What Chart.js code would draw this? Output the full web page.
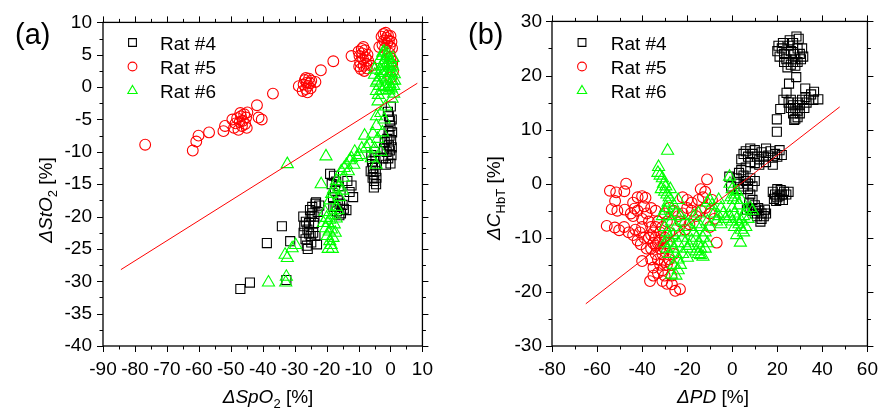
<!DOCTYPE html>
<html><head><meta charset="utf-8">
<script src="https://cdn.jsdelivr.net/npm/chart.js@4"></script>
<style>
html,body{margin:0;padding:0;background:#fff;}
#wrap{display:flex;width:890px;height:412px;}
canvas{display:block;}
</style></head><body>
<div id="wrap"><canvas id="ca" width="445" height="412"></canvas><canvas id="cb" width="445" height="412"></canvas></div>
<script>
// ---------- DATA ----------
const seriesNames = ['Rat #4', 'Rat #5', 'Rat #6'];
const xTicksA = [-90,-80,-70,-60,-50,-40,-30,-20,-10,0,10];
const yTicksA = [-40,-35,-30,-25,-20,-15,-10,-5,0,5,10];
const xTicksB = [-80,-60,-40,-20,0,20,40,60];
const yTicksB = [-30,-20,-10,0,10,20,30];

// Panel (a): dSpO2 vs dStO2
const rat4a = [[-47,-31.2],[-44,-30.2],[-38.7,-24.1],[-34,-21.5],[-31.4,-23.8],[-32.6,-29.8],
[-27.3,-20],[-27,-21.5],[-27.2,-22.5],[-26.6,-23.5],[-26.2,-24.5],[-25.9,-25],[-26,-22],[-25.5,-21],[-25,-20],[-24.5,-19.5],[-24,-21],[-24.2,-22.5],[-23.5,-23],[-23,-24.3],[-25,-23],[-24.5,-18.5],[-23.5,-18],[-26.5,-20.8],[-25.5,-22.6],[-24.8,-24],[-23.8,-20],[-25.2,-19],[-22.8,-19.3],
[-23.3,-17.8],[-22.3,-18.3],
[-18.9,-13.4],[-18.4,-15],[-17.7,-13.7],[-17.4,-16],[-17,-14.6],[-16.5,-17.5],[-16.2,-15.3],[-15.8,-18],[-18,-17],[-17.2,-18.5],
[-17.9,-18.5],[-16.8,-19.2],[-15.5,-19.5],[-14.6,-18.8],[-13.8,-19],[-15,-18.2],[-16,-19.8],
[-12.2,-15.2],[-11.7,-17],[-12.8,-16.2],[-13.5,-14.5],
[-6,-10.5],[-5.8,-11.5],[-5.5,-12.5],[-5.3,-13.5],[-5.1,-14.5],[-5.2,-15.5],[-4.8,-12],[-4.6,-13],[-4.4,-14],[-4.7,-11],[-5.6,-14],[-5,-10],[-4.5,-15],[-6.2,-13],
[-1.4,-12],
[-0.8,-3.8],[-0.5,-4.5],[-0.2,-5.2],[0,-6],[-0.6,-6.8],[-0.3,-7.5],[0.2,-8.2],[-0.5,-9],[-0.2,-9.8],[0.3,-10.5],[-0.7,-11],[0,-11.8],[0.4,-5],[0.5,-7],[-1,-8],[-1.2,-10],[0.1,-3],[-2,-9.5],[-2.3,-11],[-1.8,-8.5],[0.4,-9.3]];

const rat5a = [[-76.8,-8.9],[-61.9,-9.8],[-60.8,-8.4],[-60.1,-7.5],[-56.8,-7.0],
[-51.8,-6.0],[-52.3,-6.8],[-49.5,-5.0],[-49,-6.3],[-48.5,-5.6],[-48,-4.8],[-47.6,-6.6],[-47.2,-5.4],[-46.8,-4.5],[-46.5,-6.0],[-46.2,-5.2],[-45.8,-4.2],[-45.5,-5.7],[-45.2,-4.7],[-44.8,-3.9],[-45,-6.3],[-47,-4.0],
[-41.8,-2.8],[-41.3,-4.7],[-40.3,-5.0],[-36.8,-1.0],
[-28.7,0.15],[-27.5,-0.6],[-27.2,0.4],[-26.8,1.1],[-26.5,-0.3],[-26.2,0.7],[-26,-0.8],[-25.8,0.2],[-25.5,1.3],[-25.2,0.6],[-25,-0.2],[-24.8,1.0],[-26.5,1.4],[-23.5,0.8],
[-21.8,2.6],[-17.9,4.0],[-12.2,4.8],
[-10,5.5],[-9.7,4.8],[-9.5,3.8],[-9.3,2.8],[-9,5.9],[-8.8,5.2],[-8.6,4.3],[-8.4,3.3],[-8.2,2.5],[-8,5.7],[-7.8,4.6],[-7.6,3.6],[-7.4,2.9],[-7.2,5.0],[-7,4.1],[-9.8,3.2],[-8.5,6.2],[-6,3.3],
[-2.8,7.8],[-2.5,6.5],[-2.2,8.2],[-2,7.2],[-1.7,6.0],[-1.5,8.4],[-1.2,7.6],[-1,6.8],[-0.8,8.0],[-0.5,7.2],[-0.2,6.3],[0,7.9],[0.3,7.0],[0.5,6.0],[-3.5,6.2],
[0,4.5],[0.5,3.5],[0.8,2.5],[0.2,1.5],[-0.3,5.2],[0.6,4.0]];

const rat6a = [[-38.2,-30.2],[-32.8,-30.2],[-32.6,-29.3],[-33,-25.9],[-32.3,-26.4],[-29.7,-24.4],[-30.8,-24.9],
[-20.5,-19.3],[-20,-20.2],[-19.6,-21],[-20.3,-21.8],[-19.2,-22.3],[-19.8,-23],[-19,-23.8],[-18.6,-24.4],[-18.2,-25],[-19.5,-25],[-18,-23.3],[-17.6,-21.2],[-18.3,-19.8],[-17,-20.3],[-16.5,-19],[-19,-20.5],[-18.5,-22],[-17.3,-22.5],[-21,-21],
[-21.7,-15],[-20.2,-10.7],[-32.3,-11.9],
[-19,-17.5],[-18.4,-16.5],[-17.8,-15.8],[-16.9,-14.5],[-16.2,-15.5],[-15.4,-13],[-14.8,-14],[-14.5,-12.5],[-13.8,-12],[-13.2,-13],[-12.8,-11.3],[-12.2,-11],[-11.5,-12],[-11.2,-10],[-10.5,-10.8],[-9.7,-10.5],[-9,-9.5],[-8.1,-7.5],[-7.5,-9.3],[-6.5,-8.8],[-5.5,-7.2],[-4.4,-6],[-4.4,-4.5],[-3.9,-2.2],[-4.4,-0.6],[-4.4,0.7],[-5,1.9],[-5,2.7],[-3.4,4.2],[-2.4,5.3],
[-16,-17],[-17,-18.5],[-15,-16],
[-5,-9.5],[-4,-8],[-3,-10],[-2.5,-7],[-2,-5],[-3,-4],[-1.5,-3],[-6,-11],[-4.5,-12],
[-2.5,4.8],[-2,5.5],[-1.8,4.2],[-1.5,3.3],[-1.2,4.8],[-1,2.5],[-0.8,3.8],[-0.5,1.8],[-0.3,3.0],[0,4.2],[0.2,2.2],[0.5,1.0],[0.7,3.2],[1,0.2],[1.2,2.0],[1,-1],[0.5,-1.8],[-0.2,0.5],[-0.5,-0.5],[-1.5,1.2],[-2,2.2],[-2.8,3.2],[-3.2,1.5],[-3.5,0.2],[-3.8,-1.2],[-2.5,-0.5],[-1.8,0],[0.8,4.5],[-3,2.5],[-4,1],[0.2,-0.2],[1.3,1],[-1,5.2],[-2.2,3.6],[-0.7,0],[0.4,3.6]];

const fitA = [[-84.4,-28.2],[8.4,0.6]];

// Panel (b): dPD vs dC_HbT
const rat4b = [[28.5,27.2],[29.5,26.8],[27,26],[25,25.5],[22,25],[20,24.5],[21,23.5],[23,24],[24,23],[26,24.5],[27.5,24],[28,23],[29,22.5],[30,24],[31,25],[30.5,23],[26,22],[24.5,21.5],[23,22.5],[20.5,25.5],[22.5,26],[25.5,26.5],[29,25],[27,22.5],[28,21.8],[31.5,23.5],
[28.4,19.7],[25.2,18.5],[32.4,17.6],[36.3,17.0],[38.2,15.6],[24.1,16.8],[22.7,15.5],[21.3,13.8],[19.8,11.9],[19.8,9.6],
[25,15],[26,14],[27,14.5],[28,14],[29,15],[30,14.5],[31,15.5],[32,14],[33,15],[34,15.5],[27,13],[28,12],[29,13.5],[27.5,11.8],[29,12.3],[26,15.5],[30,13],[32.5,16],[35,16.5],[36,15.5],
[4,4.5],[5,5.5],[6,6],[7,5],[8,4],[9,5.5],[10,6.2],[11,5],[12,4.5],[13,5.8],[14,5],[15,4],[16,5.2],[17,6],[18,4.8],[19,5.5],[20,5],[21,6.2],[22,5.3],[8,6.5],[12,3.5],[15,6.5],[6,3],[10,3.8],[18,3.5],
[2,1],[2.5,0],[3,2],[4,2.5],[5,-0.5],[6,0.5],[7,0],[8,1],[9,-0.5],[10,0.5],[5,1.5],[7,-1],[3,-1],[8,-2],
[18,-1.5],[19,-2],[20,-2.5],[21,-3],[22,-2],[23,-1.5],[20,-1],[21,-2.2],[19.5,-3.2],[22.5,-3],[24,-2],[18.5,-2.8],[21.5,-1.2],[25,-1.5],
[8,-4.5],[9,-5],[10,-5.5],[11,-6],[12,-5],[13,-6.5],[14,-6],[12.5,-7],[10,-4],[11.5,-4.5],[13,-5.5],[14.5,-4.8],[15,-5.5],[6.5,-4.8],[7.5,-3.5],[9,-3],
[-1.3,1.3],[-0.5,-0.5]];

const rat5b = [[-47.1,0],[-54.3,-1.3],[-51.5,-1.6],[-47.9,-1.4],[-42,-2.5],[-40,-2.3],[-38.5,-2.6],[-11.2,0.8],
[-52,-3.2],[-44,-3.5],[-53.5,-4.7],[-47.7,-4.8],[-43.4,-4.6],[-39.1,-4.2],[-51,-5],[-45,-5.5],
[-55.7,-7.8],[-52.1,-8.1],[-50.2,-8.6],[-48,-8],[-46,-9],[-44,-9.5],[-43,-8.5],[-41,-9],[-40,-8],[-39,-10],[-42,-10.5],
[-40.6,-11.2],[-40,-14.3],[-36.5,-18.0],[-25.3,-19.8],[-23.2,-19.5],[-26.8,-18.6],
[-37,-7],[-36,-8],[-35,-9],[-34,-10],[-33,-11],[-32,-12],[-31,-13],[-30,-12],[-29,-11],[-35,-11],[-36,-12],[-34,-13],[-33,-14],[-32,-15],[-31,-16],[-30,-17],[-29,-15],[-28,-14],[-34,-8],[-32,-9],[-30,-10],[-28,-9],[-36,-14],[-35,-15.5],[-33,-16.5],[-31,-18],[-29,-18.5],[-27,-17],[-27,-15],[-26,-13],[-33,-7],[-37,-10],[-38,-12],[-35,-17],[-32,-10.5],[-31,-8],[-29,-7],[-30,-14.5],[-34,-11.5],[-36,-9.5],
[-44,-6],[-42,-5],[-40,-6.5],[-38,-5.5],[-36,-4.5],[-34,-5],[-30,-5.5],[-28,-4.5],[-26,-5],[-24,-6],[-22,-5.5],[-20,-4.5],[-18,-5],[-16,-6],[-14,-5],[-12,-4.5],[-10,-5.5],[-8,-6.5],[-6.9,-10.9],[-10,-8],[-15,-3],[-18,-3.5],[-13,-2.5],[-20,-3],[-22,-2.5],[-9,-3],[-12,-1.5],[-14,-1],[-23,-7],[-21,-8.5],[-19,-7.5]];

const rat6b = [[-28.7,6.1],[-32.7,3.1],[-33,2],[-32,1.5],[-31,1],[-30.5,0],[-29.5,-0.5],[-30,-1.5],[-29,-2],[-28,-2.5],[-31.5,-1],[-28.5,-3.5],[-29,-4.5],[-30,-5],[-27.5,-1],
[-31,-6],[-30,-8],[-29,-9],[-28,-10],[-27,-11],[-26,-12],[-25,-13],[-24,-14],[-23,-15],[-27,-16.8],[-25,-17],[-24,-16],[-26,-15],[-28,-13],[-29,-12],[-30,-11],[-27,-7],[-25,-8],[-23,-9],[-22,-10],[-21,-11],[-20,-12],[-19.9,-13.7],[-22,-13],[-24,-11],[-26,-9.5],[-23,-6],[-21,-7],[-19,-8],[-25,-5.5],[-28,-6],[-26,-4],[-24,-3],
[-17,-9],[-16,-10],[-15,-11],[-14,-12],[-14.1,-13.2],[-13,-13.5],[-12,-12],[-11,-11],[-15,-13],[-16,-12.5],[-13,-10],[-12,-9],[-10,-8],[-11,-7],[-17,-6],[-16,-7.5],[-15,-5.5],[-14,-8],[-18,-10.5],[-19,-11.5],
[-9,-4],[-8,-5.5],[-7,-7],[-6,-6],[-5,-4.5],[-4,-5.5],[-6,-3],[-10,-3],[-11,-3.5],[-5,-7.5],[-3,-6.5],
[-1.2,1.3],[-1,0],[0,-1],[1,-2],[-0.5,-2.5],[2,-3],[3,-4],[0,-4.5],[1,-5.5],[2,-6.5],[3,-7.5],[4,-8.5],[3.6,-10.9],[2,-9.5],[5,-9],[4,-7],[5,-6],[6,-5],[7,-6.5],[6,-8],[1,-8],[0,-7],[-1,-6],[8,-4.5],[9,-5],[2,-1.5],[4,-3],[0.5,-3]];

const fitB = [[-65,-22.2],[47.7,14.2]];

// ---------- STYLE / BUILD ----------
const FONT = "'Liberation Sans', Arial, sans-serif";
Chart.defaults.font.family = FONT;
Chart.defaults.color = '#000';

const COLORS = ['#000000', '#ff0000', '#00ff00'];
const STYLES = ['rect', 'circle', 'triangle'];
const RADII = [6.4, 5.4, 7.0];

function pts(arr){ return arr.map(([x,y]) => ({x, y})); }
function series(i, arr){
  return { label: seriesNames[i], data: pts(arr), pointStyle: STYLES[i], pointRadius: RADII[i],
    pointBorderColor: COLORS[i], pointBackgroundColor: 'rgba(0,0,0,0)', pointBorderWidth: 1.1,
    showLine: false, order: 2 - i };
}
function fitLine(arr){
  return { label: 'fit', data: pts(arr), showLine: true, borderColor: '#ff0000', borderWidth: 1,
    pointRadius: 0, order: -1 };
}
function axis(ticksArr, pos, pad, fitFn){
  return {
    type: 'linear', position: pos, min: ticksArr[0], max: ticksArr[ticksArr.length-1],
    afterBuildTicks: s => { s.ticks = ticksArr.map(v => ({value: v})); },
    ticks: { autoSkip: false, maxRotation: 0, minRotation: 0, padding: pad, color: '#000',
      font: { size: 19, family: FONT }, callback: v => String(v) },
    grid: { display: false, drawTicks: false }, border: { display: false },
    afterFit: fitFn
  };
}

function drawRich(ctx, segs, x, y){
  let total = 0;
  segs.forEach(s => { ctx.font = s.f; total += ctx.measureText(s.t).width; });
  let cx = x - total/2;
  segs.forEach(s => { ctx.font = s.f; ctx.fillText(s.t, cx, y + (s.dy || 0)); cx += ctx.measureText(s.t).width; });
}

function drawMarker(ctx, style, x, y, color){
  ctx.strokeStyle = color; ctx.lineWidth = 1.1; ctx.beginPath();
  if (style === 'rect') { ctx.rect(x-3.9, y-3.9, 7.8, 7.8); }
  else if (style === 'circle') { ctx.arc(x, y, 4.4, 0, Math.PI*2); }
  else { const r = 5.4; for (let k=0;k<3;k++){ const a = k*2*Math.PI/3; const px = x + Math.sin(a)*r, py = y - Math.cos(a)*r + 0.8; k? ctx.lineTo(px,py) : ctx.moveTo(px,py);} ctx.closePath(); }
  ctx.stroke();
}

function decoPlugin(cfg){
  return {
    id: 'deco',
    afterDraw(chart){
      const ctx = chart.ctx;
      const {left, right, top, bottom} = chart.chartArea;
      const xs = chart.scales.x, ys = chart.scales.y;
      ctx.save();
      ctx.strokeStyle = '#000'; ctx.lineWidth = 1.3;
      ctx.strokeRect(left, top, right-left, bottom-top);
      ctx.lineWidth = 1;
      const MAJ = 6, MIN = 3.5;
      const xv = xs.ticks.map(t => t.value), yv = ys.ticks.map(t => t.value);
      ctx.beginPath();
      xv.forEach((v, i) => {
        const p = Math.round(xs.getPixelForValue(v)) + 0.5;
        ctx.moveTo(p, bottom); ctx.lineTo(p, bottom + MAJ);
        ctx.moveTo(p, top); ctx.lineTo(p, top - MAJ);
        if (i < xv.length-1) {
          const q = Math.round(xs.getPixelForValue((v + xv[i+1])/2)) + 0.5;
          ctx.moveTo(q, bottom); ctx.lineTo(q, bottom + MIN);
          ctx.moveTo(q, top); ctx.lineTo(q, top - MIN);
        }
      });
      yv.forEach((v, i) => {
        const p = Math.round(ys.getPixelForValue(v)) + 0.5;
        ctx.moveTo(left, p); ctx.lineTo(left - MAJ, p);
        ctx.moveTo(right, p); ctx.lineTo(right + MAJ, p);
        if (i < yv.length-1) {
          const q = Math.round(ys.getPixelForValue((v + yv[i+1])/2)) + 0.5;
          ctx.moveTo(left, q); ctx.lineTo(left - MIN, q);
          ctx.moveTo(right, q); ctx.lineTo(right + MIN, q);
        }
      });
      ctx.stroke();

      ctx.fillStyle = '#000'; ctx.textBaseline = 'alphabetic'; ctx.textAlign = 'left';
      ctx.font = '29px ' + FONT;
      ctx.fillText(cfg.panel, cfg.panelX, 44);
      const rows = [42.5, 66.5, 90];
      seriesNames.forEach((n, i) => {
        drawMarker(ctx, STYLES[i], cfg.legX, rows[i], COLORS[i]);
        ctx.fillStyle = '#000'; ctx.font = '19px ' + FONT;
        ctx.fillText(n, cfg.legTextX, rows[i] + 7.5);
      });
      drawRich(ctx, cfg.xTitle, cfg.xTitleX, 403);
      ctx.save();
      ctx.translate(cfg.yTitleX, cfg.yTitleY);
      ctx.rotate(-Math.PI/2);
      drawRich(ctx, cfg.yTitle, 0, 0);
      ctx.restore();
      ctx.restore();
    }
  };
}

const IT = 'italic 19px ' + FONT, RG = '19px ' + FONT, SB = '13px ' + FONT;

function makeChart(id, sets, xT, yT, yPad, yW, rightPad, deco){
  new Chart(document.getElementById(id), {
    type: 'scatter',
    data: { datasets: sets },
    options: {
      responsive: false, animation: false,
      layout: { padding: { top: 21, right: rightPad, left: 0, bottom: 0 } },
      plugins: { legend: { display: false }, tooltip: { enabled: false } },
      scales: {
        x: axis(xT, 'bottom', 12, s => { s.height = 66; }),
        y: axis(yT, 'left', yPad, s => { s.width = yW; })
      }
    },
    plugins: [decoPlugin(deco)]
  });
}

makeChart('ca', [series(0, rat4a), series(1, rat5a), series(2, rat6a), fitLine(fitA)],
  xTicksA, yTicksA, 11, 103, 18, {
    panel: '(a)', panelX: 15, legX: 132.5, legTextX: 160,
    xTitle: [{t:'ΔSpO', f:IT}, {t:'2', f:SB, dy:5}, {t:' [%]', f:RG}], xTitleX: 268,
    yTitle: [{t:'ΔStO', f:IT}, {t:'2', f:SB, dy:5}, {t:' [%]', f:RG}], yTitleX: 52, yTitleY: 200
  });

makeChart('cb', [series(0, rat4b), series(1, rat5b), series(2, rat6b), fitLine(fitB)],
  xTicksB, yTicksB, 10, 107, 13, {
    panel: '(b)', panelX: 23, legX: 137, legTextX: 165.7,
    xTitle: [{t:'ΔPD', f:IT}, {t:' [%]', f:RG}], xTitleX: 268,
    yTitle: [{t:'ΔC', f:IT}, {t:'HbT', f:SB, dy:5}, {t:' [%]', f:RG}], yTitleX: 55, yTitleY: 198
  });
</script>
</body></html>
